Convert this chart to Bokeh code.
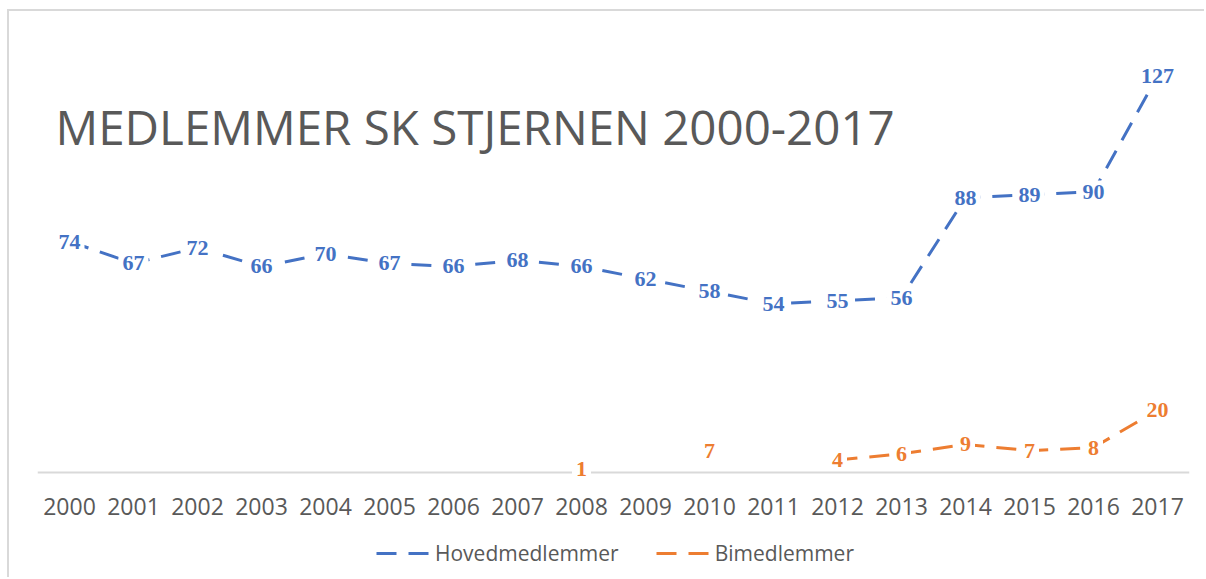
from bokeh.plotting import figure
from bokeh.models import ColumnDataSource, LabelSet, Label, Legend, LegendItem, FactorRange, Range1d
from bokeh.embed import file_html
from bokeh.resources import INLINE

# ---- data ----
years = [str(y) for y in range(2000, 2018)]
hoved = [74, 67, 72, 66, 70, 67, 66, 68, 66, 62, 58, 54, 55, 56, 88, 89, 90, 127]
bi = [None, None, None, None, None, None, None, None, 1, None, 7, None, 4, 6, 9, 7, 8, 20]
series_names = ["Hovedmedlemmer", "Bimedlemmer"]
series_colors = ["#4472C4", "#ED7D31"]
title_text = "MEDLEMMER SK STJERNEN 2000-2017"

FONT = "Open Sans"
LABEL_FONT = "Lato, 'Liberation Sans', 'DejaVu Sans', sans-serif"
GRAY = "#595959"

p = figure(
    x_range=FactorRange(factors=years),
    y_range=Range1d(-34.28, 140),
    width=1197, height=568,
    output_backend="svg", toolbar_location=None,
    y_axis_location=None,
    min_border_left=28, min_border_right=17,
    min_border_top=24, min_border_bottom=0,
    background_fill_color="white", border_fill_color="white",
)
p.styles = {
    "margin-left": "7px", "margin-top": "9px",
    "border-left": "2px solid #d9d9d9", "border-top": "2px solid #d9d9d9",
}
p.outline_line_color = None
p.xgrid.grid_line_color = None
p.ygrid.grid_line_color = None

ax = p.xaxis[0]
ax.fixed_location = 0
ax.axis_line_color = "#d9d9d9"
ax.axis_line_width = 2
ax.major_tick_line_color = None
ax.minor_tick_line_color = None
ax.major_tick_in = 0
ax.major_tick_out = 0
ax.major_label_standoff = 26
ax.major_label_text_font = FONT
ax.major_label_text_font_size = "23px"
ax.major_label_text_color = GRAY

renderers = []
for name, vals, col in zip(series_names, [hoved, bi], series_colors):
    ys = [float("nan") if v is None else v for v in vals]
    src = ColumnDataSource(dict(x=years, y=ys))
    r = p.line("x", "y", source=src, line_color=col, line_width=3, line_dash="20 12")
    renderers.append(r)
    lx = [x for x, v in zip(years, vals) if v is not None]
    ly = [v for v in vals if v is not None]
    lsrc = ColumnDataSource(dict(x=lx, y=ly, t=[str(v) for v in ly]))
    labels = LabelSet(
        x="x", y="y", text="t", source=lsrc,
        text_align="center", text_baseline="middle",
        text_font=LABEL_FONT, text_font_style="bold", text_font_size="22px",
        text_color=col, background_fill_color="white",
        border_line_color="white", border_line_width=8,
    )
    p.add_layout(labels)

title = Label(
    x=18, y=453, x_units="screen", y_units="screen", text=title_text,
    text_font=FONT, text_font_size="47.5px", text_color=GRAY,
    text_baseline="alphabetic", text_align="left",
)
p.add_layout(title)

legend = Legend(
    items=[LegendItem(label=n, renderers=[r]) for n, r in zip(series_names, renderers)],
    orientation="horizontal", location=(339, 12),
    border_line_color=None, background_fill_alpha=0,
    label_text_font=FONT, label_text_font_size="21px", label_text_color=GRAY,
    glyph_width=54, glyph_height=20, label_standoff=5, spacing=37,
    padding=4, margin=0,
)
p.add_layout(legend)

open("out.html", "w").write(file_html(p, INLINE))
